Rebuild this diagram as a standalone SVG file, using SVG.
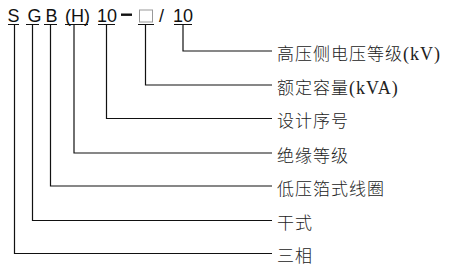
<svg xmlns="http://www.w3.org/2000/svg" width="454" height="273" viewBox="0 0 454 273">
<style>
.code{font-family:"Liberation Sans",Arial,sans-serif;font-size:18px;fill:#111}
.lbl{font-family:"Liberation Serif","Noto Sans CJK SC",serif;font-size:17px;font-weight:300;letter-spacing:1px;fill:#222}
.lt{font-size:18px;font-weight:400}
.ln{stroke:#111;stroke-width:1.2;fill:none}
</style>
<rect width="454" height="273" fill="#fff"/>
<g id="code">
<text class="code" x="7.5" y="22">S</text>
<text class="code" x="27.5" y="22">G</text>
<text class="code" x="45.5" y="22">B</text>
<text class="code" x="65" y="22">(H)</text>
<text class="code" x="97" y="22">10</text>
<rect x="121" y="13.5" width="11" height="2.4" fill="#111"/>
<rect x="139.5" y="10" width="13" height="12" fill="none" stroke="#999" stroke-width="1"/>
<text class="code" x="159" y="22">/</text>
<text class="code" x="173" y="22">10</text>
</g>
<g id="connectors">
<path class="ln" d="M8 24.5H19M26 24.5H39M44 24.5H57M65 24.5H88M98 24.5H115M138 24.5H154M174 24.5H192"/>
<path class="ln" d="M183 24.5V51H272"/>
<path class="ln" d="M145.5 24.5V85H272"/>
<path class="ln" d="M106.5 24.5V118.5H272"/>
<path class="ln" d="M74 24.5V153H272"/>
<path class="ln" d="M50.5 24.5V186H272"/>
<path class="ln" d="M32.5 24.5V220.5H272"/>
<path class="ln" d="M14.5 24.5V253.5H272"/>
</g>
<g id="n1"><text class="lbl" x="277" y="59.5">高压侧电压等级<tspan class="lt">(kV)</tspan></text></g>
<g id="n2"><text class="lbl" x="277" y="93.5">额定容量<tspan class="lt">(kVA)</tspan></text></g>
<g id="n3"><text class="lbl" x="277" y="127">设计序号</text></g>
<g id="n4"><text class="lbl" x="277" y="161.5">绝缘等级</text></g>
<g id="n5"><text class="lbl" x="277" y="194.5">低压箔式线圈</text></g>
<g id="n6"><text class="lbl" x="277" y="229">干式</text></g>
<g id="n7"><text class="lbl" x="277" y="262">三相</text></g>
</svg>
